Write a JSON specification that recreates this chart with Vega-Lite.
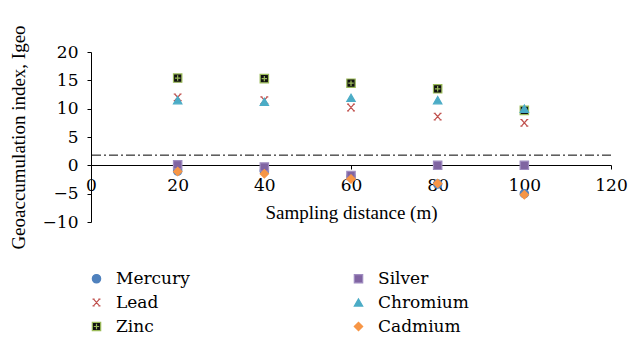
{
  "$schema": "https://vega.github.io/schema/vega-lite/v6.json",
  "width": 520,
  "height": 170,
  "autosize": "none",
  "padding": {"left": 91, "top": 52, "right": 20, "bottom": 120},
  "config": {
    "font": "Liberation Serif",
    "view": {"stroke": null},
    "axis": {
      "grid": false,
      "domainColor": "black",
      "tickColor": "black",
      "labelColor": "black",
      "titleColor": "black",
      "labelFont": "DejaVu Serif",
      "titleFont": "Liberation Serif",
      "labelFontSize": 17,
      "titleFontSize": 19,
      "titleFontWeight": "normal",
      "labelOverlap": false,
      "zindex": 0
    },
    "legend": {
      "labelFont": "DejaVu Serif",
      "labelFontSize": 17,
      "labelColor": "black"
    }
  },
  "datasets": {
    "pts": [
      {"d": 20, "v": -1.0, "m": "Mercury"},
      {"d": 40, "v": -1.0, "m": "Mercury"},
      {"d": 60, "v": -2.0, "m": "Mercury"},
      {"d": 80, "v": -3.3, "m": "Mercury"},
      {"d": 100, "v": -5.0, "m": "Mercury"},
      {"d": 20, "v": 12.0, "m": "Lead"},
      {"d": 40, "v": 11.5, "m": "Lead"},
      {"d": 60, "v": 10.2, "m": "Lead"},
      {"d": 80, "v": 8.6, "m": "Lead"},
      {"d": 100, "v": 7.5, "m": "Lead"},
      {"d": 20, "v": 15.4, "m": "Zinc"},
      {"d": 40, "v": 15.3, "m": "Zinc"},
      {"d": 60, "v": 14.5, "m": "Zinc"},
      {"d": 80, "v": 13.5, "m": "Zinc"},
      {"d": 100, "v": 9.7, "m": "Zinc"},
      {"d": 20, "v": 0.1, "m": "Silver"},
      {"d": 40, "v": -0.3, "m": "Silver"},
      {"d": 60, "v": -1.8, "m": "Silver"},
      {"d": 80, "v": 0.0, "m": "Silver"},
      {"d": 100, "v": 0.0, "m": "Silver"},
      {"d": 20, "v": 11.5, "m": "Chromium"},
      {"d": 40, "v": 11.2, "m": "Chromium"},
      {"d": 60, "v": 11.9, "m": "Chromium"},
      {"d": 80, "v": 11.5, "m": "Chromium"},
      {"d": 100, "v": 10.0, "m": "Chromium"},
      {"d": 20, "v": -1.1, "m": "Cadmium"},
      {"d": 40, "v": -1.5, "m": "Cadmium"},
      {"d": 60, "v": -2.4, "m": "Cadmium"},
      {"d": 80, "v": -3.2, "m": "Cadmium"},
      {"d": 100, "v": -5.2, "m": "Cadmium"}
    ]
  },
  "layer": [
    {
      "data": {"values": [{"v": 1.8}]},
      "mark": {"type": "rule", "color": "black", "strokeWidth": 1, "strokeDash": [9, 3, 2, 3]},
      "encoding": {
        "y": {
          "field": "v",
          "type": "quantitative",
          "scale": {"domain": [-10, 20], "nice": false, "zero": false},
          "axis": {
            "values": [-10, -5, 0, 5, 10, 15, 20],
            "tickSize": 4,
            "labelPadding": 9,
            "labelOverlap": false,
            "labelFont": "DejaVu Serif",
            "labelFontSize": 17,
            "title": "Geoaccumulation index, Igeo",
            "titlePadding": 14
          }
        }
      }
    },
    {
      "data": {"name": "pts"},
      "mark": {"type": "point", "size": 70, "strokeWidth": 1.2, "opacity": 1},
      "encoding": {
        "x": {
          "field": "d",
          "type": "quantitative",
          "scale": {"domain": [0, 120], "nice": false},
          "axis": {
            "values": [0, 20, 40, 60, 80, 100, 120],
            "offset": -57,
            "tickSize": 4,
            "labelPadding": 8,
            "labelFlush": false,
            "labelOverlap": false,
            "labelFont": "DejaVu Serif",
            "labelFontSize": 17,
            "title": "Sampling distance (m)",
            "titlePadding": 10
          }
        },
        "y": {
          "field": "v",
          "type": "quantitative",
          "scale": {"domain": [-10, 20], "nice": false, "zero": false},
          "axis": {
            "values": [-10, -5, 0, 5, 10, 15, 20],
            "tickSize": 4,
            "labelPadding": 9,
            "labelOverlap": false,
            "labelFont": "DejaVu Serif",
            "labelFontSize": 17,
            "title": "Geoaccumulation index, Igeo",
            "titlePadding": 14
          }
        },
        "shape": {
          "field": "m",
          "type": "nominal",
          "scale": {
            "domain": ["Mercury", "Lead", "Zinc", "Silver", "Chromium", "Cadmium"],
            "range": [
              "circle",
              "M-0.7,-0.8L0.7,0.8M-0.7,0.8L0.7,-0.8M-0.95,-0.8H-0.45M0.45,-0.8H0.95M-0.95,0.8H-0.45M0.45,0.8H0.95",
              "M-1,-1H1V1H-1Z M0,-0.65V0.65 M-0.65,0H0.65",
              "square",
              "triangle-up",
              "diamond"
            ]
          },
          "legend": {
            "title": null,
            "orient": "none",
            "legendX": -3,
            "legendY": 218,
            "columns": 2,
            "columnPadding": 160,
            "rowPadding": 6,
            "labelOffset": 11,
            "labelFont": "DejaVu Serif",
            "labelFontSize": 17,
            "symbolSize": 70,
            "symbolStrokeWidth": 1.2
          }
        },
        "fill": {
          "field": "m",
          "type": "nominal",
          "scale": {
            "domain": ["Mercury", "Lead", "Zinc", "Silver", "Chromium", "Cadmium"],
            "range": ["#4F81BD", "transparent", "#111111", "#8064A2", "#4BACC6", "#F79646"]
          },
          "legend": {"title": null}
        },
        "stroke": {
          "field": "m",
          "type": "nominal",
          "scale": {
            "domain": ["Mercury", "Lead", "Zinc", "Silver", "Chromium", "Cadmium"],
            "range": ["#4F81BD", "#C0504D", "#9BBB59", "#9F8CC0", "#4BACC6", "#F79646"]
          },
          "legend": {"title": null}
        }
      }
    }
  ]
}
